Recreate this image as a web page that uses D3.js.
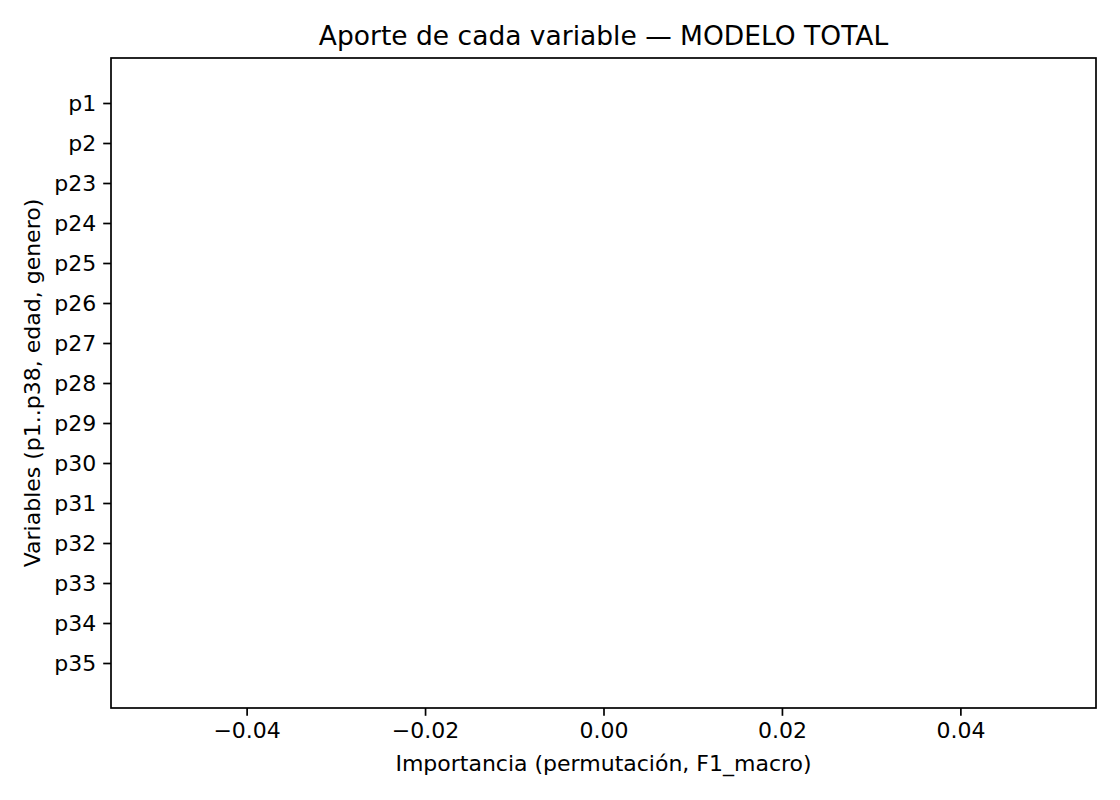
<!DOCTYPE html>
<html><head><meta charset="utf-8">
<script src="https://cdn.jsdelivr.net/npm/d3@7"></script>
<style>body{margin:0;background:#fff}text{font-family:"DejaVu Sans",sans-serif;fill:#000}</style>
</head><body><div id="chart"></div>
<script>
// variables and their importance (all zero in the reference)
var variables = ["p1","p2","p23","p24","p25","p26","p27","p28","p29","p30","p31","p32","p33","p34","p35"];
var importance = [0,0,0,0,0,0,0,0,0,0,0,0,0,0,0];
var xTicks = [-0.04,-0.02,0,0.02,0.04];

var W = 1120, H = 800;
var mLeft = 111, mRight = 1096, mTop = 58, mBottom = 708;
var svg = d3.select("#chart").append("svg").attr("width", W).attr("height", H);

var x = d3.scaleLinear().domain([-0.0552, 0.0552]).range([mLeft, mRight]);
var yi = d3.scaleLinear().domain([-1.125, variables.length - 1 + 1.125]).range([mTop, mBottom]);

// bars (zero width)
svg.selectAll("rect.bar").data(importance).enter().append("rect")
  .attr("class","bar")
  .attr("x", d => x(Math.min(0,d)))
  .attr("width", d => Math.abs(x(d) - x(0)))
  .attr("y", (d,i) => yi(i - 0.4))
  .attr("height", yi(0.8) - yi(0))
  .attr("fill", "#1f77b4");

var fmt = d => (d < 0 ? "\u2212" : "") + Math.abs(d).toFixed(2);
var xAxis = d3.axisBottom(x).tickValues(xTicks).tickFormat(fmt).tickSize(7.8).tickPadding(7);
var gx = svg.append("g").attr("transform","translate(0,"+mBottom+")").call(xAxis);
var yAxis = d3.axisLeft(yi).tickValues(d3.range(variables.length)).tickFormat(i => variables[i]).tickSize(7.8).tickPadding(7);
var gy = svg.append("g").attr("transform","translate("+mLeft+",0)").call(yAxis);
[gx, gy].forEach(g => {
  g.select(".domain").remove();
  g.selectAll("line").attr("stroke","#000").attr("stroke-width",1.7);
  g.selectAll("text").style("font-size","22px").attr("fill","#000");
});

svg.append("rect").attr("x",mLeft).attr("y",mTop).attr("width",mRight-mLeft).attr("height",mBottom-mTop)
  .attr("fill","none").attr("stroke","#000").attr("stroke-width",1.7);

svg.append("text").attr("x",(mLeft+mRight)/2).attr("y",45).attr("text-anchor","middle")
  .style("font-size","26.5px").text("Aporte de cada variable \u2014 MODELO TOTAL");
svg.append("text").attr("x",(mLeft+mRight)/2).attr("y",771).attr("text-anchor","middle")
  .style("font-size","22px").text("Importancia (permutación, F1_macro)");
svg.append("text").attr("transform","translate(40,"+((mTop+mBottom)/2)+") rotate(-90)").attr("text-anchor","middle")
  .style("font-size","22px").text("Variables (p1..p38, edad, genero)");
</script></body></html>
